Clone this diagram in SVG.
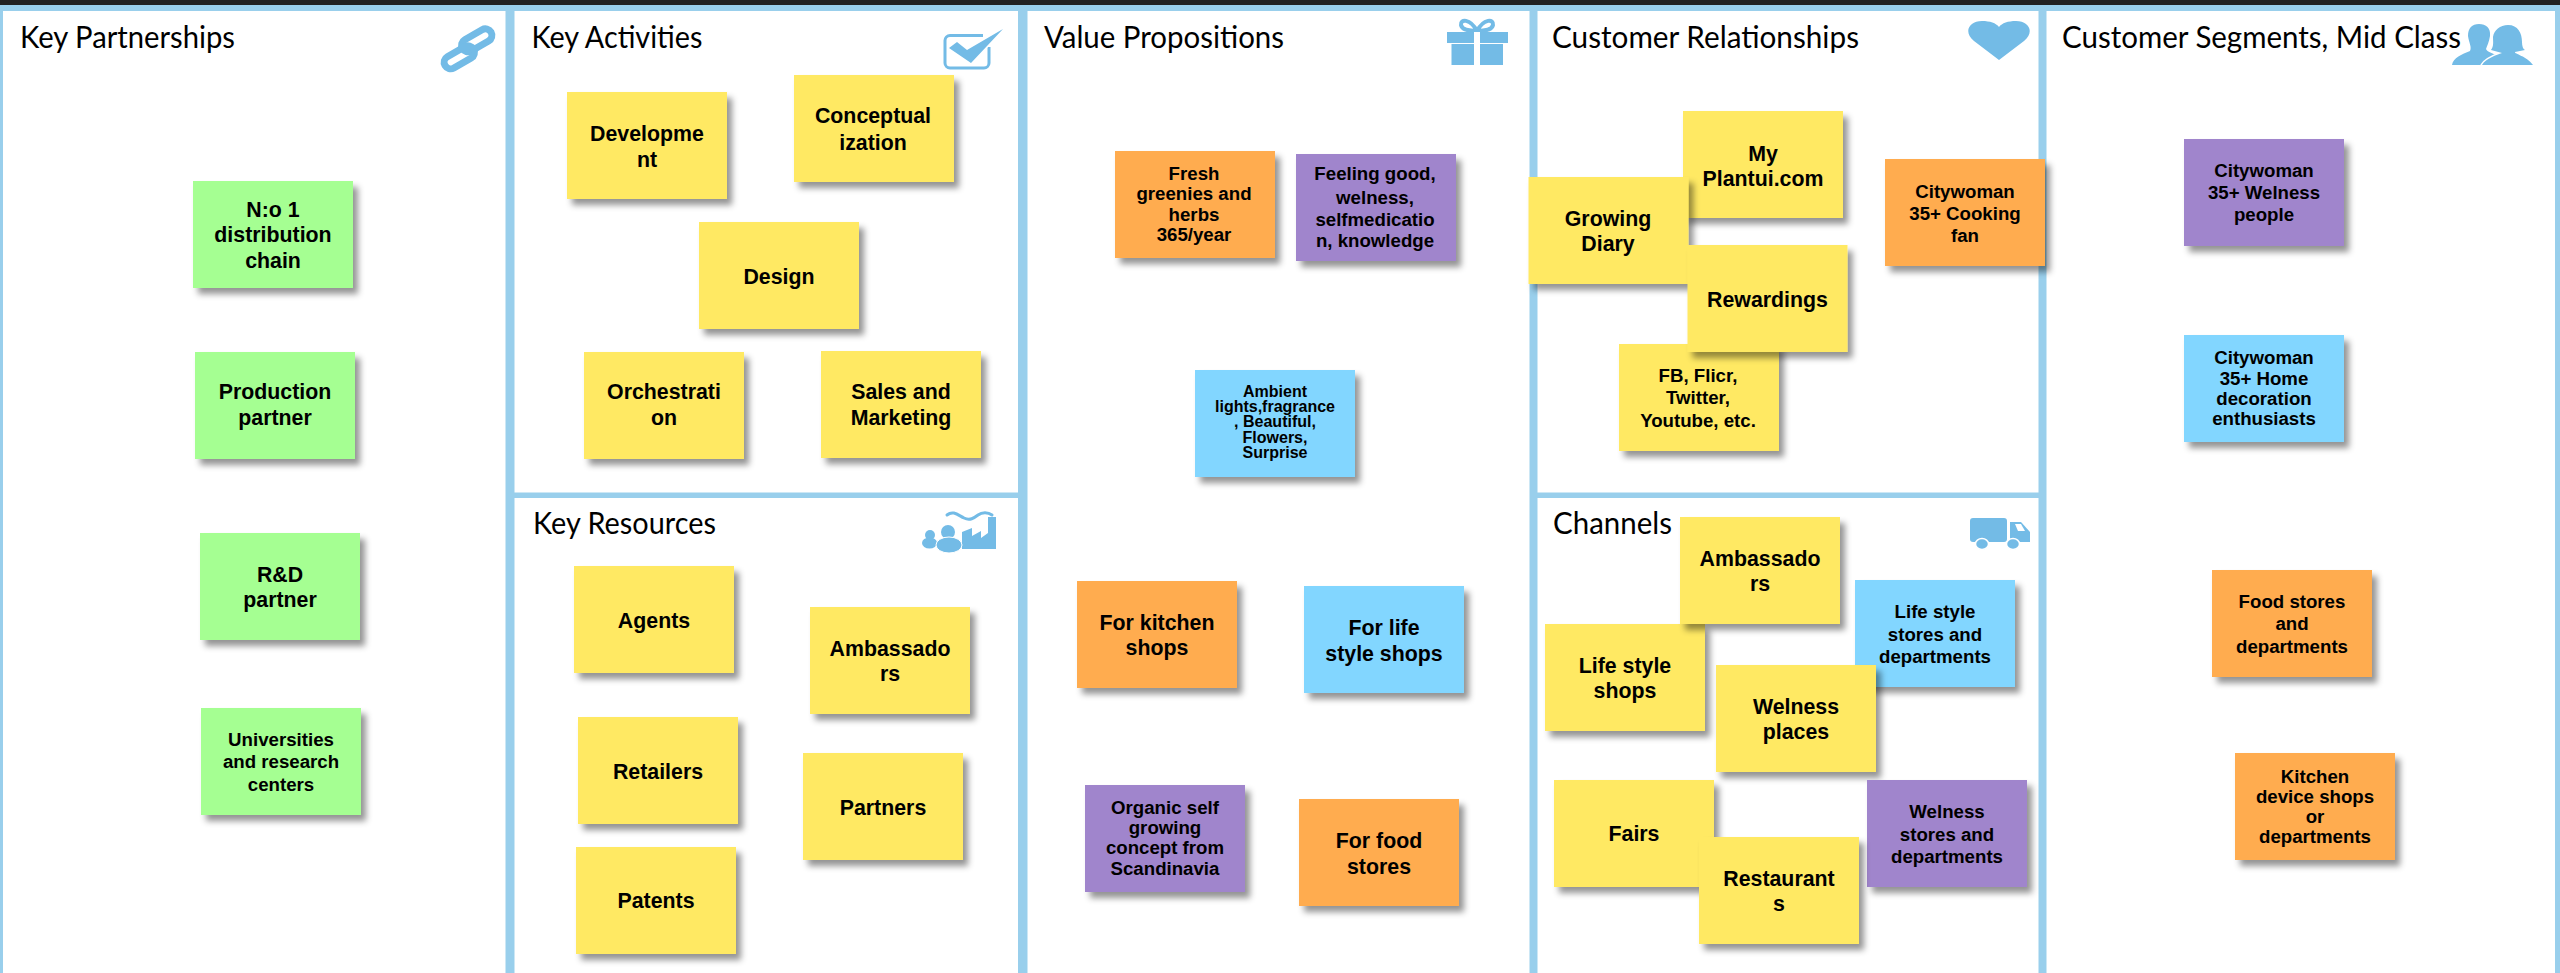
<svg xmlns="http://www.w3.org/2000/svg" width="2560" height="973" viewBox="0 0 2560 973">
<defs>
<filter id="sh" x="-10%" y="-10%" width="125%" height="125%"><feDropShadow dx="5" dy="6" stdDeviation="3" flood-color="#000" flood-opacity="0.42"/></filter>
</defs>
<style>
.line{fill:#99CFEC}
.ic{fill:#73BBE6}
.ics{fill:none;stroke:#73BBE6}
.cut{stroke:#fff;paint-order:stroke;stroke-linejoin:round}
.title{font:30px Lato,"Liberation Sans",sans-serif;fill:#000}
.n rect{filter:url(#sh);width:160px;height:107px}
.n text{font-family:"Liberation Sans",Arial,sans-serif;font-weight:700;text-anchor:middle;fill:#000}
.l text{font-size:21.33px}
.m text{font-size:18.67px}
.s text{font-size:16px}
.y rect{fill:#FFE964}
.g rect{fill:#A5FF92}
.o rect{fill:#FFAC50}
.p rect{fill:#A085CC}
.b rect{fill:#82D6FF}
</style>
<rect width="2560" height="973" fill="#fff"/>
<g id="frame">
<rect width="2560" height="5" fill="#222"/>
<rect class="line" y="5" width="2560" height="6"/>
<rect class="line" x="0" y="5" width="3" height="968"/>
<rect class="line" x="505.500" y="5" width="9" height="968"/>
<rect class="line" x="1018" y="5" width="9.500" height="968"/>
<rect class="line" x="1529.500" y="5" width="8" height="968"/>
<rect class="line" x="2038.500" y="5" width="8" height="968"/>
<rect class="line" x="2555" y="5" width="5" height="968"/>
<rect class="line" x="514" y="492.500" width="505" height="5.500"/>
<rect class="line" x="1537" y="492.500" width="502" height="5.500"/>
</g>
<g id="titles">
<text class="title" x="20" y="48" textLength="215" lengthAdjust="spacingAndGlyphs">Key Partnerships</text>
<text class="title" x="531.500" y="48" textLength="171" lengthAdjust="spacingAndGlyphs">Key Activities</text>
<text class="title" x="533" y="534" textLength="183" lengthAdjust="spacingAndGlyphs">Key Resources</text>
<text class="title" x="1044" y="48" textLength="240" lengthAdjust="spacingAndGlyphs">Value Propositions</text>
<text class="title" x="1552" y="48" textLength="307" lengthAdjust="spacingAndGlyphs">Customer Relationships</text>
<text class="title" x="1553" y="534" textLength="119" lengthAdjust="spacingAndGlyphs">Channels</text>
<text class="title" x="2062" y="48" textLength="399" lengthAdjust="spacingAndGlyphs">Customer Segments, Mid Class</text>
</g>
<g id="icon-link">
<g class="ics" stroke-width="7">
<rect x="-16.500" y="-6.500" width="33" height="13" rx="6.500" transform="translate(476.700 40.300) rotate(-30)"/>
<rect x="-16.500" y="-6.500" width="33" height="13" rx="6.500" transform="translate(459.300 57.300) rotate(-30)"/>
</g>
</g>
<g id="icon-check">
<path class="ics" stroke-width="3" d="M983 35.500H950a5 5 0 0 0-5 5V63a5 5 0 0 0 5 5H984a5 5 0 0 0 5-5V47"/>
<path class="ic cut" stroke-width="3" d="M949 48L957 42L967 50L1003 29L971 63Z"/>
</g>
<g id="icon-gift">
<path class="ics" stroke-width="4" d="M1477 31C1470 18 1460 19 1461 25C1462 30 1470 31 1477 31C1484 31 1492 30 1493 25C1494 19 1484 18 1477 31Z"/>
<rect class="ic" x="1447" y="32" width="61" height="11"/>
<rect class="ic" x="1451.500" y="44" width="51.500" height="21"/>
<rect x="1474" y="32" width="6" height="34" fill="#fff"/>
</g>
<g id="icon-heart">
<path class="ic" d="M1999 60L1974 41C1963 32 1969 21 1982 21C1990 21 1996 23 1999 27C2002 23 2008 21 2016 21C2029 21 2035 32 2024 41Z"/>
</g>
<g id="icon-people">
<path class="ic" d="M2468 36C2468 28 2472 24 2479 24C2486 24 2491 28 2490 36C2489 42 2487 46 2486 49C2487 52 2493 53 2497 56L2484 65H2452C2453 58 2462 54 2470 51C2472 47 2469 43 2468 36Z"/>
<path class="ic cut" stroke-width="3" d="M2508 25C2518 25 2522 33 2522 42C2522 46 2523 49 2525 50L2515 52C2514 54 2527 56 2533 65H2482C2486 58 2497 55 2502 53L2491 50C2494 46 2493 42 2493 37C2494 30 2500 25 2508 25Z"/>
</g>
<g id="icon-factory">
<path class="ic" d="M962 532L972 528V536L981 531V538L988 533V517H996V549H962Z"/>
<path class="ics" stroke-width="3" stroke-linecap="round" d="M947 515C953 510 958 515 964 518C970 521 974 518 978 515C982 512 988 512 992 515"/>
<circle class="ic" cx="930" cy="535" r="5"/>
<ellipse class="ic" cx="929.500" cy="543" rx="7.500" ry="5.500"/>
<circle class="ic" cx="948" cy="532" r="7"/>
<ellipse class="ic" stroke="#fff" cx="949" cy="545" rx="13" ry="8"/>
</g>
<g id="icon-truck">
<rect class="ic" x="1970" y="518" width="37" height="24" rx="3"/>
<path class="ic" d="M2010 522H2021L2030 532V542H2010Z"/>
<path fill="#fff" d="M2015 524H2021L2025 531H2018Z"/>
<ellipse class="ic" stroke="#fff" stroke-width="1.500" cx="1982" cy="544" rx="6.500" ry="5.500"/>
<ellipse class="ic" stroke="#fff" stroke-width="1.500" cx="2013" cy="544" rx="6.500" ry="5.500"/>
</g>
<g id="connectors"/>
<g id="n-no1" class="n g l"><rect x="193" y="181"/><text x="273" y="217">N:o 1</text><text x="273" y="242">distribution</text><text x="273" y="268">chain</text></g>
<g id="n-production" class="n g l"><rect x="195" y="352"/><text x="275" y="399">Production</text><text x="275" y="425">partner</text></g>
<g id="n-rd" class="n g l"><rect x="200" y="533"/><text x="280" y="582">R&amp;D</text><text x="280" y="607">partner</text></g>
<g id="n-universities" class="n g m"><rect x="201" y="708"/><text x="281" y="746">Universities</text><text x="281" y="768">and research</text><text x="281" y="791">centers</text></g>
<g id="n-development" class="n y l"><rect x="567" y="92"/><text x="647" y="141">Developme</text><text x="647" y="167">nt</text></g>
<g id="n-conceptual" class="n y l"><rect x="794" y="75"/><text x="873" y="123">Conceptual</text><text x="873" y="150">ization</text></g>
<g id="n-design" class="n y l"><rect x="699" y="222"/><text x="779" y="284">Design</text></g>
<g id="n-orchestration" class="n y l"><rect x="584" y="352"/><text x="664" y="399">Orchestrati</text><text x="664" y="425">on</text></g>
<g id="n-sales" class="n y l"><rect x="821" y="351"/><text x="901" y="399">Sales and</text><text x="901" y="425">Marketing</text></g>
<g id="n-agents" class="n y l"><rect x="574" y="566"/><text x="654" y="628">Agents</text></g>
<g id="n-ambassadors1" class="n y l"><rect x="810" y="607"/><text x="890" y="656">Ambassado</text><text x="890" y="681">rs</text></g>
<g id="n-retailers" class="n y l"><rect x="578" y="717"/><text x="658" y="779">Retailers</text></g>
<g id="n-partners" class="n y l"><rect x="803" y="753"/><text x="883" y="815">Partners</text></g>
<g id="n-patents" class="n y l"><rect x="576" y="847"/><text x="656" y="908">Patents</text></g>
<g id="n-fresh" class="n o m"><rect x="1115" y="151"/><text x="1194" y="180">Fresh</text><text x="1194" y="200">greenies and</text><text x="1194" y="221">herbs</text><text x="1194" y="241">365/year</text></g>
<g id="n-feeling" class="n p m"><rect x="1296" y="154"/><text x="1375" y="180">Feeling good,</text><text x="1375" y="204">welness,</text><text x="1375" y="226">selfmedicatio</text><text x="1375" y="247">n, knowledge</text></g>
<g id="n-ambient" class="n b s"><rect x="1195" y="370"/><text x="1275" y="397">Ambient</text><text x="1275" y="412">lights,fragrance</text><text x="1275" y="427">, Beautiful,</text><text x="1275" y="443">Flowers,</text><text x="1275" y="458">Surprise</text></g>
<g id="n-forkitchen" class="n o l"><rect x="1077" y="581"/><text x="1157" y="630">For kitchen</text><text x="1157" y="655">shops</text></g>
<g id="n-forlife" class="n b l"><rect x="1304" y="586"/><text x="1384" y="635">For life</text><text x="1384" y="661">style shops</text></g>
<g id="n-organic" class="n p m"><rect x="1085" y="785"/><text x="1165" y="814">Organic self</text><text x="1165" y="834">growing</text><text x="1165" y="854">concept from</text><text x="1165" y="875">Scandinavia</text></g>
<g id="n-forfood" class="n o l"><rect x="1299" y="799"/><text x="1379" y="848">For food</text><text x="1379" y="874">stores</text></g>
<g id="n-plantui" class="n y l"><rect x="1683" y="111"/><text x="1763" y="161">My</text><text x="1763" y="186">Plantui.com</text></g>
<g id="n-growing" class="n y l"><rect x="1528.500" y="177"/><text x="1608" y="226">Growing</text><text x="1608" y="251">Diary</text></g>
<g id="n-fb" class="n y m"><rect x="1619" y="344"/><text x="1698" y="382">FB, Flicr,</text><text x="1698" y="404">Twitter,</text><text x="1698" y="427">Youtube, etc.</text></g>
<g id="n-rewardings" class="n y l"><rect x="1687.500" y="245"/><text x="1767.500" y="307">Rewardings</text></g>
<g id="n-cooking" class="n o m"><rect x="1885" y="159"/><text x="1965" y="198">Citywoman</text><text x="1965" y="220">35+ Cooking</text><text x="1965" y="242">fan</text></g>
<g id="n-lifeshops" class="n y l"><rect x="1545" y="624"/><text x="1625" y="673">Life style</text><text x="1625" y="698">shops</text></g>
<g id="n-ambassadors2" class="n y l"><rect x="1680" y="517"/><text x="1760" y="566">Ambassado</text><text x="1760" y="591">rs</text></g>
<g id="n-lifestores" class="n b m"><rect x="1855" y="580"/><text x="1935" y="618">Life style</text><text x="1935" y="641">stores and</text><text x="1935" y="663">departments</text></g>
<g id="n-welnessplaces" class="n y l"><rect x="1716" y="665"/><text x="1796" y="714">Welness</text><text x="1796" y="739">places</text></g>
<g id="n-fairs" class="n y l"><rect x="1554" y="780"/><text x="1634" y="841">Fairs</text></g>
<g id="n-welnessstores" class="n p m"><rect x="1867" y="780"/><text x="1947" y="818">Welness</text><text x="1947" y="841">stores and</text><text x="1947" y="863">departments</text></g>
<g id="n-restaurants" class="n y l"><rect x="1699" y="837"/><text x="1779" y="886">Restaurant</text><text x="1779" y="911">s</text></g>
<g id="n-wellnesspeople" class="n p m"><rect x="2184" y="139"/><text x="2264" y="177">Citywoman</text><text x="2264" y="199">35+ Welness</text><text x="2264" y="221">people</text></g>
<g id="n-homedeco" class="n b m"><rect x="2184" y="335"/><text x="2264" y="364">Citywoman</text><text x="2264" y="385">35+ Home</text><text x="2264" y="405">decoration</text><text x="2264" y="425">enthusiasts</text></g>
<g id="n-foodstores" class="n o m"><rect x="2212" y="570"/><text x="2292" y="608">Food stores</text><text x="2292" y="630">and</text><text x="2292" y="653">departments</text></g>
<g id="n-kitchendevice" class="n o m"><rect x="2235" y="753"/><text x="2315" y="783">Kitchen</text><text x="2315" y="803">device shops</text><text x="2315" y="823">or</text><text x="2315" y="843">departments</text></g>
</svg>
